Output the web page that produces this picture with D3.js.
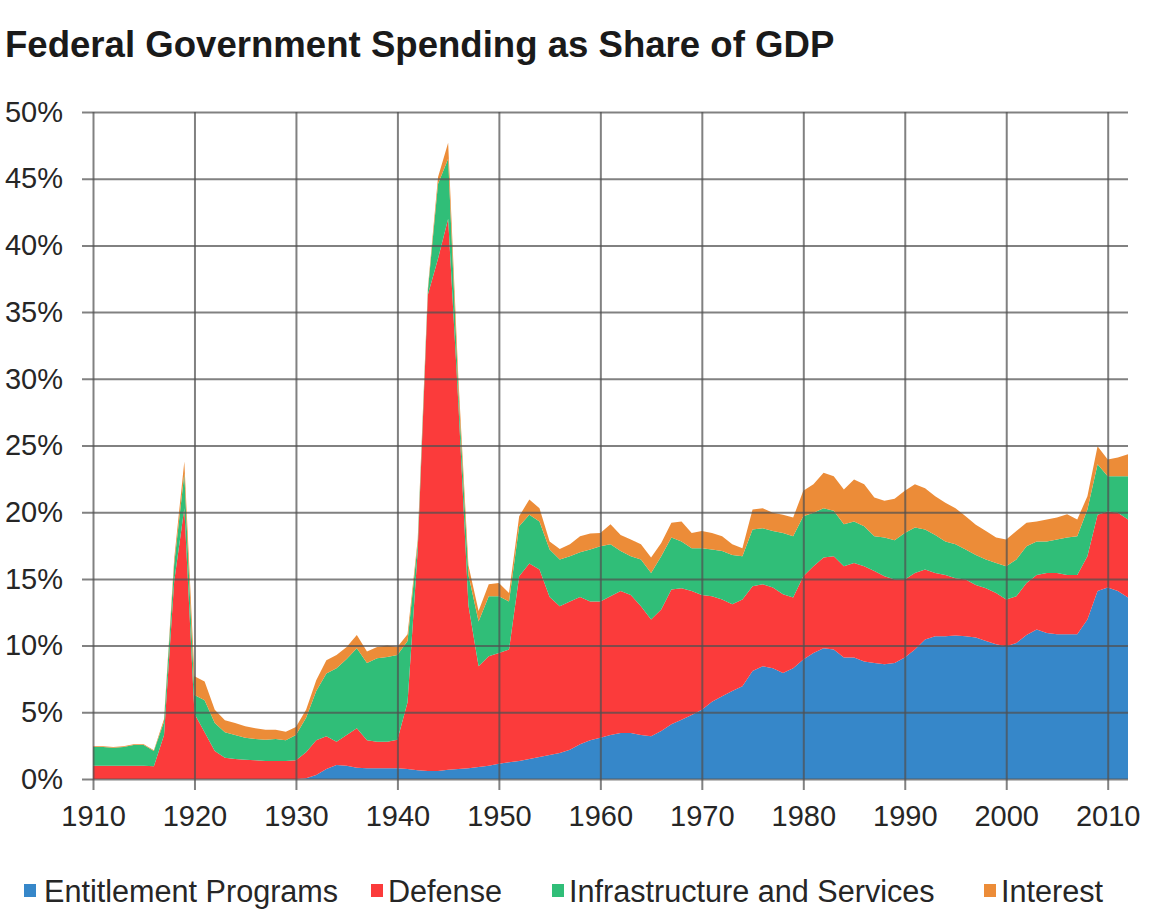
<!DOCTYPE html>
<html>
<head>
<meta charset="utf-8">
<script src="https://cdn.jsdelivr.net/npm/d3@7"></script>
<style>
  body { margin: 0; background: #fff; }
  text { font-family: "Liberation Sans", Arial, sans-serif; }
</style>
</head>
<body>
<div id="chart"></div>
<script>
// Share of GDP (%) per year, 1910-2012
const years = d3.range(1910, 2013);

const entitlement = [
  0, 0, 0, 0, 0, 0, 0, 0, 0, 0,
  0, 0, 0, 0, 0, 0, 0, 0, 0, 0,
  0, 0.05, 0.3, 0.75, 1.05, 1.0, 0.85, 0.8, 0.8, 0.8,
  0.8, 0.75, 0.65, 0.6, 0.6, 0.7, 0.75, 0.8, 0.9, 1.0,
  1.15, 1.25, 1.35, 1.5, 1.65, 1.8, 1.95, 2.2, 2.6, 2.9,
  3.1, 3.3, 3.45, 3.45, 3.3, 3.2, 3.6, 4.1, 4.45, 4.8,
  5.2, 5.8, 6.2, 6.6, 6.95, 8.1, 8.45, 8.3, 7.95, 8.3,
  8.95, 9.45, 9.8, 9.7, 9.1, 9.1, 8.8, 8.7, 8.6, 8.7,
  9.1, 9.7, 10.45, 10.7, 10.7, 10.75, 10.7, 10.6, 10.35, 10.1,
  9.95, 10.2, 10.8, 11.2, 10.95, 10.85, 10.85, 10.85, 11.95, 14.1,
  14.35, 14.1, 13.6
];

const defense = [
  1.0, 1.0, 1.0, 1.0, 1.0, 1.0, 0.95, 3.3, 14.8, 20.3,
  4.9, 3.5, 2.1, 1.6, 1.5, 1.45, 1.4, 1.35, 1.35, 1.35,
  1.4, 1.95, 2.6, 2.45, 1.75, 2.3, 2.95, 2.1, 2.0, 2.0,
  2.15, 5.0, 16.5, 35.7, 38.4, 41.3, 27.5, 12.2, 7.55, 8.2,
  8.3, 8.45, 13.85, 14.65, 14.05, 11.85, 11.0, 11.1, 11.05, 10.4,
  10.2, 10.4, 10.65, 10.35, 9.65, 8.75, 9.1, 10.1, 9.85, 9.3,
  8.6, 7.9, 7.25, 6.5, 6.5, 6.35, 6.15, 6.05, 5.9, 5.3,
  6.25, 6.5, 6.8, 7.0, 6.85, 7.1, 7.15, 6.9, 6.6, 6.25,
  5.85, 5.75, 5.25, 4.75, 4.6, 4.3, 4.25, 3.95, 3.95, 3.85,
  3.5, 3.5, 3.9, 4.1, 4.5, 4.6, 4.45, 4.45, 4.75, 5.7,
  5.7, 5.85, 5.85
];

const infrastructure = [
  1.4, 1.4, 1.35, 1.4, 1.55, 1.55, 1.15, 1.0, 1.3, 2.6,
  1.4, 2.4, 2.1, 1.9, 1.8, 1.65, 1.6, 1.6, 1.65, 1.55,
  1.9, 2.6, 3.7, 4.7, 5.5, 5.7, 6.0, 5.8, 6.25, 6.35,
  6.35, 4.6, 0.5, 0.3, 5.6, 4.5, 1.0, 2.3, 3.35, 4.5,
  4.25, 3.6, 3.75, 3.65, 3.6, 3.55, 3.5, 3.4, 3.35, 3.9,
  4.15, 3.9, 3.0, 2.9, 3.5, 3.5, 4.0, 3.9, 3.5, 3.2,
  3.5, 3.5, 3.65, 3.7, 3.25, 4.25, 4.2, 4.25, 4.6, 4.6,
  4.5, 4.0, 3.7, 3.4, 3.15, 3.1, 3.0, 2.6, 2.9, 2.95,
  3.5, 3.4, 3.0, 2.85, 2.5, 2.55, 2.25, 2.25, 2.15, 2.25,
  2.5, 2.75, 2.75, 2.5, 2.35, 2.5, 2.8, 2.9, 3.5, 3.8,
  2.65, 2.75, 3.25
];

const interest = [
  0.05, 0.05, 0.05, 0.05, 0.05, 0.05, 0.05, 0.2, 0.4, 0.9,
  1.4, 1.4, 1.0, 0.9, 0.9, 0.85, 0.8, 0.75, 0.7, 0.65,
  0.6, 0.6, 0.8, 1.0, 1.0, 0.9, 1.0, 0.85, 0.85, 0.85,
  0.6, 0.5, 0.3, 0.2, 0.5, 1.2, 0.9, 0.7, 0.8, 0.9,
  1.0, 0.65, 0.75, 1.15, 1.0, 0.6, 0.8, 0.9, 1.2, 1.2,
  1.0, 1.5, 1.2, 1.25, 1.15, 1.15, 1.0, 1.1, 1.5, 1.15,
  1.3, 1.25, 1.1, 0.8, 0.6, 1.5, 1.5, 1.35, 1.35, 1.4,
  1.9, 2.15, 2.65, 2.6, 2.6, 3.15, 3.15, 2.9, 2.75, 3.1,
  3.15, 3.25, 3.1, 2.9, 2.9, 2.7, 2.5, 2.25, 2.15, 1.9,
  2.0, 2.15, 1.75, 1.5, 1.65, 1.65, 1.75, 1.25, 1.0, 1.35,
  1.25, 1.4, 1.65
];

const seriesNames = ["Entitlement Programs", "Defense", "Infrastructure and Services", "Interest"];
const seriesValues = [entitlement, defense, infrastructure, interest];
const seriesColors = ["#3687c9", "#fb3b3b", "#30be78", "#ec8c38"];

const xTickValues = [1910, 1920, 1930, 1940, 1950, 1960, 1970, 1980, 1990, 2000, 2010];
const yTickValues = [0, 5, 10, 15, 20, 25, 30, 35, 40, 45, 50];

// legend layout (left edge of each key square)
const legendX = [24, 371, 552, 984];

const margin = { top: 112, right: 42, bottom: 145, left: 93 },
    width = 1170 - margin.left - margin.right,
    height = 924 - margin.top - margin.bottom;

const root = d3.select("#chart")
    .append("svg")
    .attr("width", 1170)
    .attr("height", 924);

// Title
root.append("text")
    .attr("x", 5)
    .attr("y", 57)
    .style("font-size", "36.6px")
    .style("font-weight", "bold")
    .style("fill", "#1a1a1a")
    .text("Federal Government Spending as Share of GDP");

const svg = root.append("g")
    .attr("transform", `translate(${margin.left},${margin.top})`);

// Build table for the stack
const table = years.map((yr, i) => {
    const row = { year: yr };
    seriesNames.forEach((name, k) => { row[name] = seriesValues[k][i]; });
    return row;
});

const xScale = d3.scaleLinear()
    .domain([1910, 2012])
    .range([0, width]);

const yScale = d3.scaleLinear()
    .domain([0, 50])
    .range([height, 0]);

const stacked = d3.stack().keys(seriesNames)(table);

const area = d3.area()
    .x(d => xScale(d.data.year))
    .y0(d => yScale(d[0]))
    .y1(d => yScale(d[1]));

// Draw stacked areas
svg.selectAll(".layer")
    .data(stacked)
    .enter()
    .append("path")
    .attr("class", "layer")
    .attr("d", area)
    .style("fill", (d, i) => seriesColors[i]);

// Gridlines + axes drawn on top of the areas
const gridColor = "#505050";

svg.append("g")
    .call(d3.axisLeft(yScale)
        .tickValues(yTickValues)
        .tickSize(-width)
        .tickPadding(30)
        .tickFormat(d => d + "%"))
    .call(g => g.select(".domain").remove())
    .call(g => g.selectAll(".tick line")
        .attr("x1", -11)
        .attr("stroke", gridColor)
        .attr("stroke-opacity", 0.72)
        .attr("stroke-width", 2))
    .call(g => g.selectAll(".tick text")
        .style("font-size", "29px")
        .style("fill", "#262626")
        .style("font-family", "'Liberation Sans', Arial, sans-serif"));

svg.append("g")
    .attr("transform", `translate(0,${height})`)
    .call(d3.axisBottom(xScale)
        .tickValues(xTickValues)
        .tickSize(-height)
        .tickPadding(26)
        .tickFormat(d3.format("d")))
    .call(g => g.select(".domain").remove())
    .call(g => g.selectAll(".tick line")
        .attr("y1", 11)
        .attr("stroke", gridColor)
        .attr("stroke-opacity", 0.72)
        .attr("stroke-width", 2))
    .call(g => g.selectAll(".tick text")
        .style("font-size", "29px")
        .style("fill", "#262626")
        .style("font-family", "'Liberation Sans', Arial, sans-serif"));

// Legend
const legend = root.append("g");

const items = legend.selectAll("g")
    .data(seriesNames)
    .enter()
    .append("g")
    .attr("transform", (d, i) => `translate(${legendX[i]}, 0)`);

items.append("rect")
    .attr("x", 0)
    .attr("y", 884)
    .attr("width", 12)
    .attr("height", 13)
    .style("fill", (d, i) => seriesColors[i]);

items.append("text")
    .attr("x", (d, i) => i === 0 ? 20 : 17)
    .attr("y", 902)
    .style("font-size", "30.6px")
    .style("fill", "#262626")
    .text(d => d);
</script>
</body>
</html>
